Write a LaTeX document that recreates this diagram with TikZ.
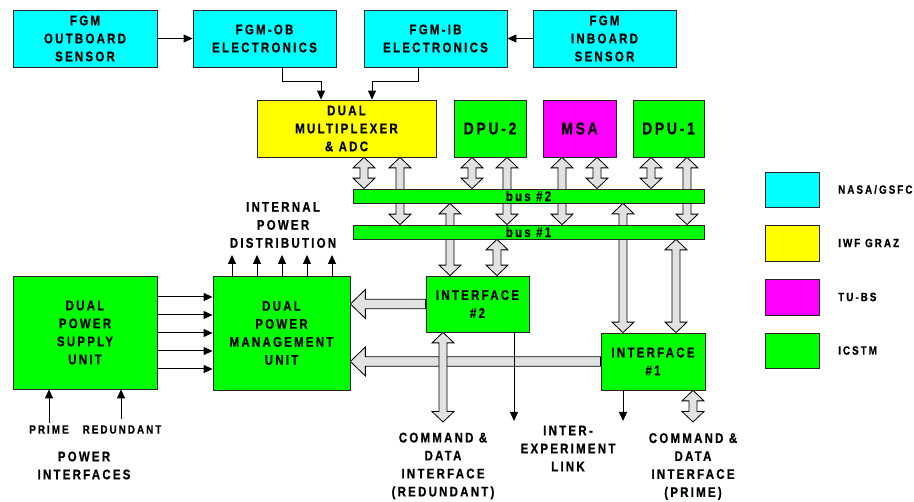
\documentclass[tikz,border=0pt]{standalone}
\usepackage{fontspec}
\setmainfont{Liberation Sans}[FakeStretch=0.82,LetterSpace=16,BoldFeatures={FakeBold=0.6}]
\newfontfamily\legfont{Liberation Sans}[FakeStretch=0.82,LetterSpace=17,BoldFeatures={FakeBold=0.6}]
\usetikzlibrary{arrows.meta,backgrounds,calc}
\pgfdeclarelayer{bottom}
\pgfsetlayers{bottom,background,main}
\definecolor{cnasa}{RGB}{0,255,255}
\definecolor{cgraz}{RGB}{255,255,0}
\definecolor{ctubs}{RGB}{255,0,255}
\definecolor{cicstm}{RGB}{0,255,0}
\definecolor{fatgray}{RGB}{226,226,226}
\newcommand\mainfnt{\bfseries\fontsize{14}{18}\selectfont}
\newcommand\bigfnt{\bfseries\fontsize{17}{18}\selectfont}
\newcommand\smallfnt{\legfont\bfseries\fontsize{12}{14}\selectfont}
\tikzset{
  box/.style={draw=black!85, line width=0.75pt, inner sep=0pt, align=center, font=\mainfnt},
  txt/.style={inner sep=0pt, align=center, font=\mainfnt},
  leg/.style={inner sep=0pt, align=left, font=\smallfnt},
  tarr/.style={draw=black, line width=1pt, -{Triangle[length=9pt,width=8pt]}},
  fatarr/.style={draw=black, fill=fatgray, line width=0.8pt, line join=miter}
}
% double-headed vertical fat arrow: #1 x, #2 upper point, #3 lower point
\newcommand\fatV[3]{%
  \path[fatarr] let \p1=(#1,0 |- #2), \p2=(#1,0 |- #3) in
    (\x1,\y1) -- (\x1+11pt,\y1-10.5pt) -- (\x1+4pt,\y1-10.5pt) -- (\x1+4pt,\y2+10.5pt)
    -- (\x1+11pt,\y2+10.5pt) -- (\x1,\y2) -- (\x1-11pt,\y2+10.5pt) -- (\x1-4pt,\y2+10.5pt)
    -- (\x1-4pt,\y1-10.5pt) -- (\x1-11pt,\y1-10.5pt) -- cycle;}
% single-headed horizontal fat arrow pointing left: #1 start (right), #2 tip (left)
\newcommand\fatH[2]{%
  \path[fatarr] let \p1=#1, \p2=#2 in
    (\x2,\y1) -- (\x2+15pt,\y1+14.5pt) -- (\x2+15pt,\y1+4.7pt) -- (\x1,\y1+4.7pt)
    -- (\x1,\y1-4.7pt) -- (\x2+15pt,\y1-4.7pt) -- (\x2+15pt,\y1-14.5pt) -- cycle;}
\begin{document}
\begin{tikzpicture}[x=1pt,y=-1pt]
\begin{pgfonlayer}{bottom}
\fill[white] (0,0) rectangle (914,502);
\end{pgfonlayer}
\useasboundingbox (0,0) rectangle (914,502);

% top row
\node[box,fill=cnasa,minimum width=144pt,minimum height=57pt] (obs) at (85,38.5) {FGM\\OUTBOARD\\SENSOR};
\node[box,fill=cnasa,minimum width=143pt,minimum height=57pt] (obe) at (264.5,38.5) {FGM-OB\\ELECTRONICS};
\node[box,fill=cnasa,minimum width=143pt,minimum height=57pt] (ibe) at (435.5,38.5) {FGM-IB\\ELECTRONICS};
\node[box,fill=cnasa,minimum width=143pt,minimum height=57pt] (ibs) at (604.5,38.5) {FGM\\INBOARD\\SENSOR};

% second row
\node[box,fill=cgraz,minimum width=179pt,minimum height=57pt] (mux) at (346.5,128.5) {DUAL\\MULTIPLEXER\\\& ADC};
\node[box,fill=cicstm,minimum width=72pt,minimum height=57pt,font=\bigfnt] (dpu2) at (490,128.5) {DPU-2};
\node[box,fill=ctubs,minimum width=73pt,minimum height=57pt,font=\bigfnt] (msa) at (579.5,128.5) {MSA};
\node[box,fill=cicstm,minimum width=71pt,minimum height=57pt,font=\bigfnt] (dpu1) at (668.5,128.5) {DPU-1};

% buses
\node[box,fill=cicstm,minimum width=351pt,minimum height=14pt] (bus2) at (528.5,196) {bus \#2};
\node[box,fill=cicstm,minimum width=351pt,minimum height=14pt] (bus1) at (528.5,232) {bus \#1};

% interfaces and power
\node[box,fill=cicstm,minimum width=103pt,minimum height=56pt] (if2) at (477.5,304) {INTERFACE\\\#2};
\node[box,fill=cicstm,minimum width=104pt,minimum height=57pt] (if1) at (653,361.5) {INTERFACE\\\#1};
\node[box,fill=cicstm,minimum width=137pt,minimum height=114pt] (pmu) at (281.5,333) {DUAL\\POWER\\MANAGEMENT\\UNIT};
\node[box,fill=cicstm,minimum width=144pt,minimum height=113pt] (psu) at (85,332.5) {DUAL\\POWER\\SUPPLY\\UNIT};

% free ends
\coordinate (cdr) at (443,422);
\coordinate (cdp) at (693,422);

% fat arrows
\begin{pgfonlayer}{background}
\fatV{364}{mux.south}{bus2.north}
\fatV{400}{mux.south}{bus1.north}
\fatV{472}{dpu2.south}{bus2.north}
\fatV{507}{dpu2.south}{bus1.north}
\fatV{562}{msa.south}{bus1.north}
\fatV{597}{msa.south}{bus2.north}
\fatV{651}{dpu1.south}{bus2.north}
\fatV{687}{dpu1.south}{bus1.north}
\fatV{450}{bus2.south}{if2.north}
\fatV{497}{bus1.south}{if2.north}
\fatV{623}{bus2.south}{if1.north}
\fatV{676}{bus1.south}{if1.north}
\fatH{(if2.west)}{(pmu.east |- if2.west)}
\fatH{(if1.west)}{(pmu.east |- if1.west)}
\fatV{443}{if2.south}{cdr}
\fatV{693}{if1.south}{cdp}
\end{pgfonlayer}

% thin arrows top
\draw[tarr] (obs.east) -- (obe.west);
\draw[tarr] (ibs.west) -- (ibe.east);
\draw[tarr] (282,0 |- obe.south) -- (282,82) -- (321,82) -- (321,0 |- mux.north);
\draw[tarr] (418,0 |- ibe.south) -- (418,82) -- (372,82) -- (372,0 |- mux.north);

% power arrows
\foreach \yy in {297,315,333,351,369}
  \draw[tarr] (psu.east |- 0,\yy) -- (pmu.west |- 0,\yy);
\foreach \xx in {232,257,282,307,332}
  \draw[tarr] (\xx,0 |- pmu.north) -- (\xx,255);

% labels
\node[txt] (ipd) at (283,225) {INTERNAL\\POWER\\DISTRIBUTION};
\node[leg] (prime) at (49,429.5) {PRIME};
\node[leg] (red) at (122,429.5) {REDUNDANT};
\draw[tarr] (49,423) -- (49,0 |- psu.south);
\draw[tarr] (121,419) -- (121,0 |- psu.south);
\node[txt] (pwi) at (84,465.5) {POWER\\INTERFACES};

% inter-experiment links
\draw[tarr] (514,0 |- if2.south) -- (514,421);
\draw[tarr] (623,0 |- if1.south) -- (623,421);

\node[txt] (cmdr) at (443,466) {COMMAND \&\\DATA\\INTERFACE\\(REDUNDANT)};
\node[txt] (iel) at (568,448.5) {INTER-\\EXPERIMENT\\LINK};
\node[txt] (cmdp) at (693,466.5) {COMMAND \&\\DATA\\INTERFACE\\(PRIME)};

% legend
\node[box,fill=cnasa,minimum width=54pt,minimum height=35pt] (lg1) at (792,189.5) {};
\node[box,fill=cgraz,minimum width=54pt,minimum height=36pt] (lg2) at (792,243) {};
\node[box,fill=ctubs,minimum width=54pt,minimum height=36pt] (lg3) at (792,297) {};
\node[box,fill=cicstm,minimum width=54pt,minimum height=35pt] (lg4) at (792,350.5) {};
\node[leg,anchor=west] (lt1) at (838,189.5) {NASA/GSFC};
\node[leg,anchor=west] (lt2) at (838,243) {IWF GRAZ};
\node[leg,anchor=west] (lt3) at (838,297) {TU-BS};
\node[leg,anchor=west] (lt4) at (838,350.5) {ICSTM};
\end{tikzpicture}
\end{document}
